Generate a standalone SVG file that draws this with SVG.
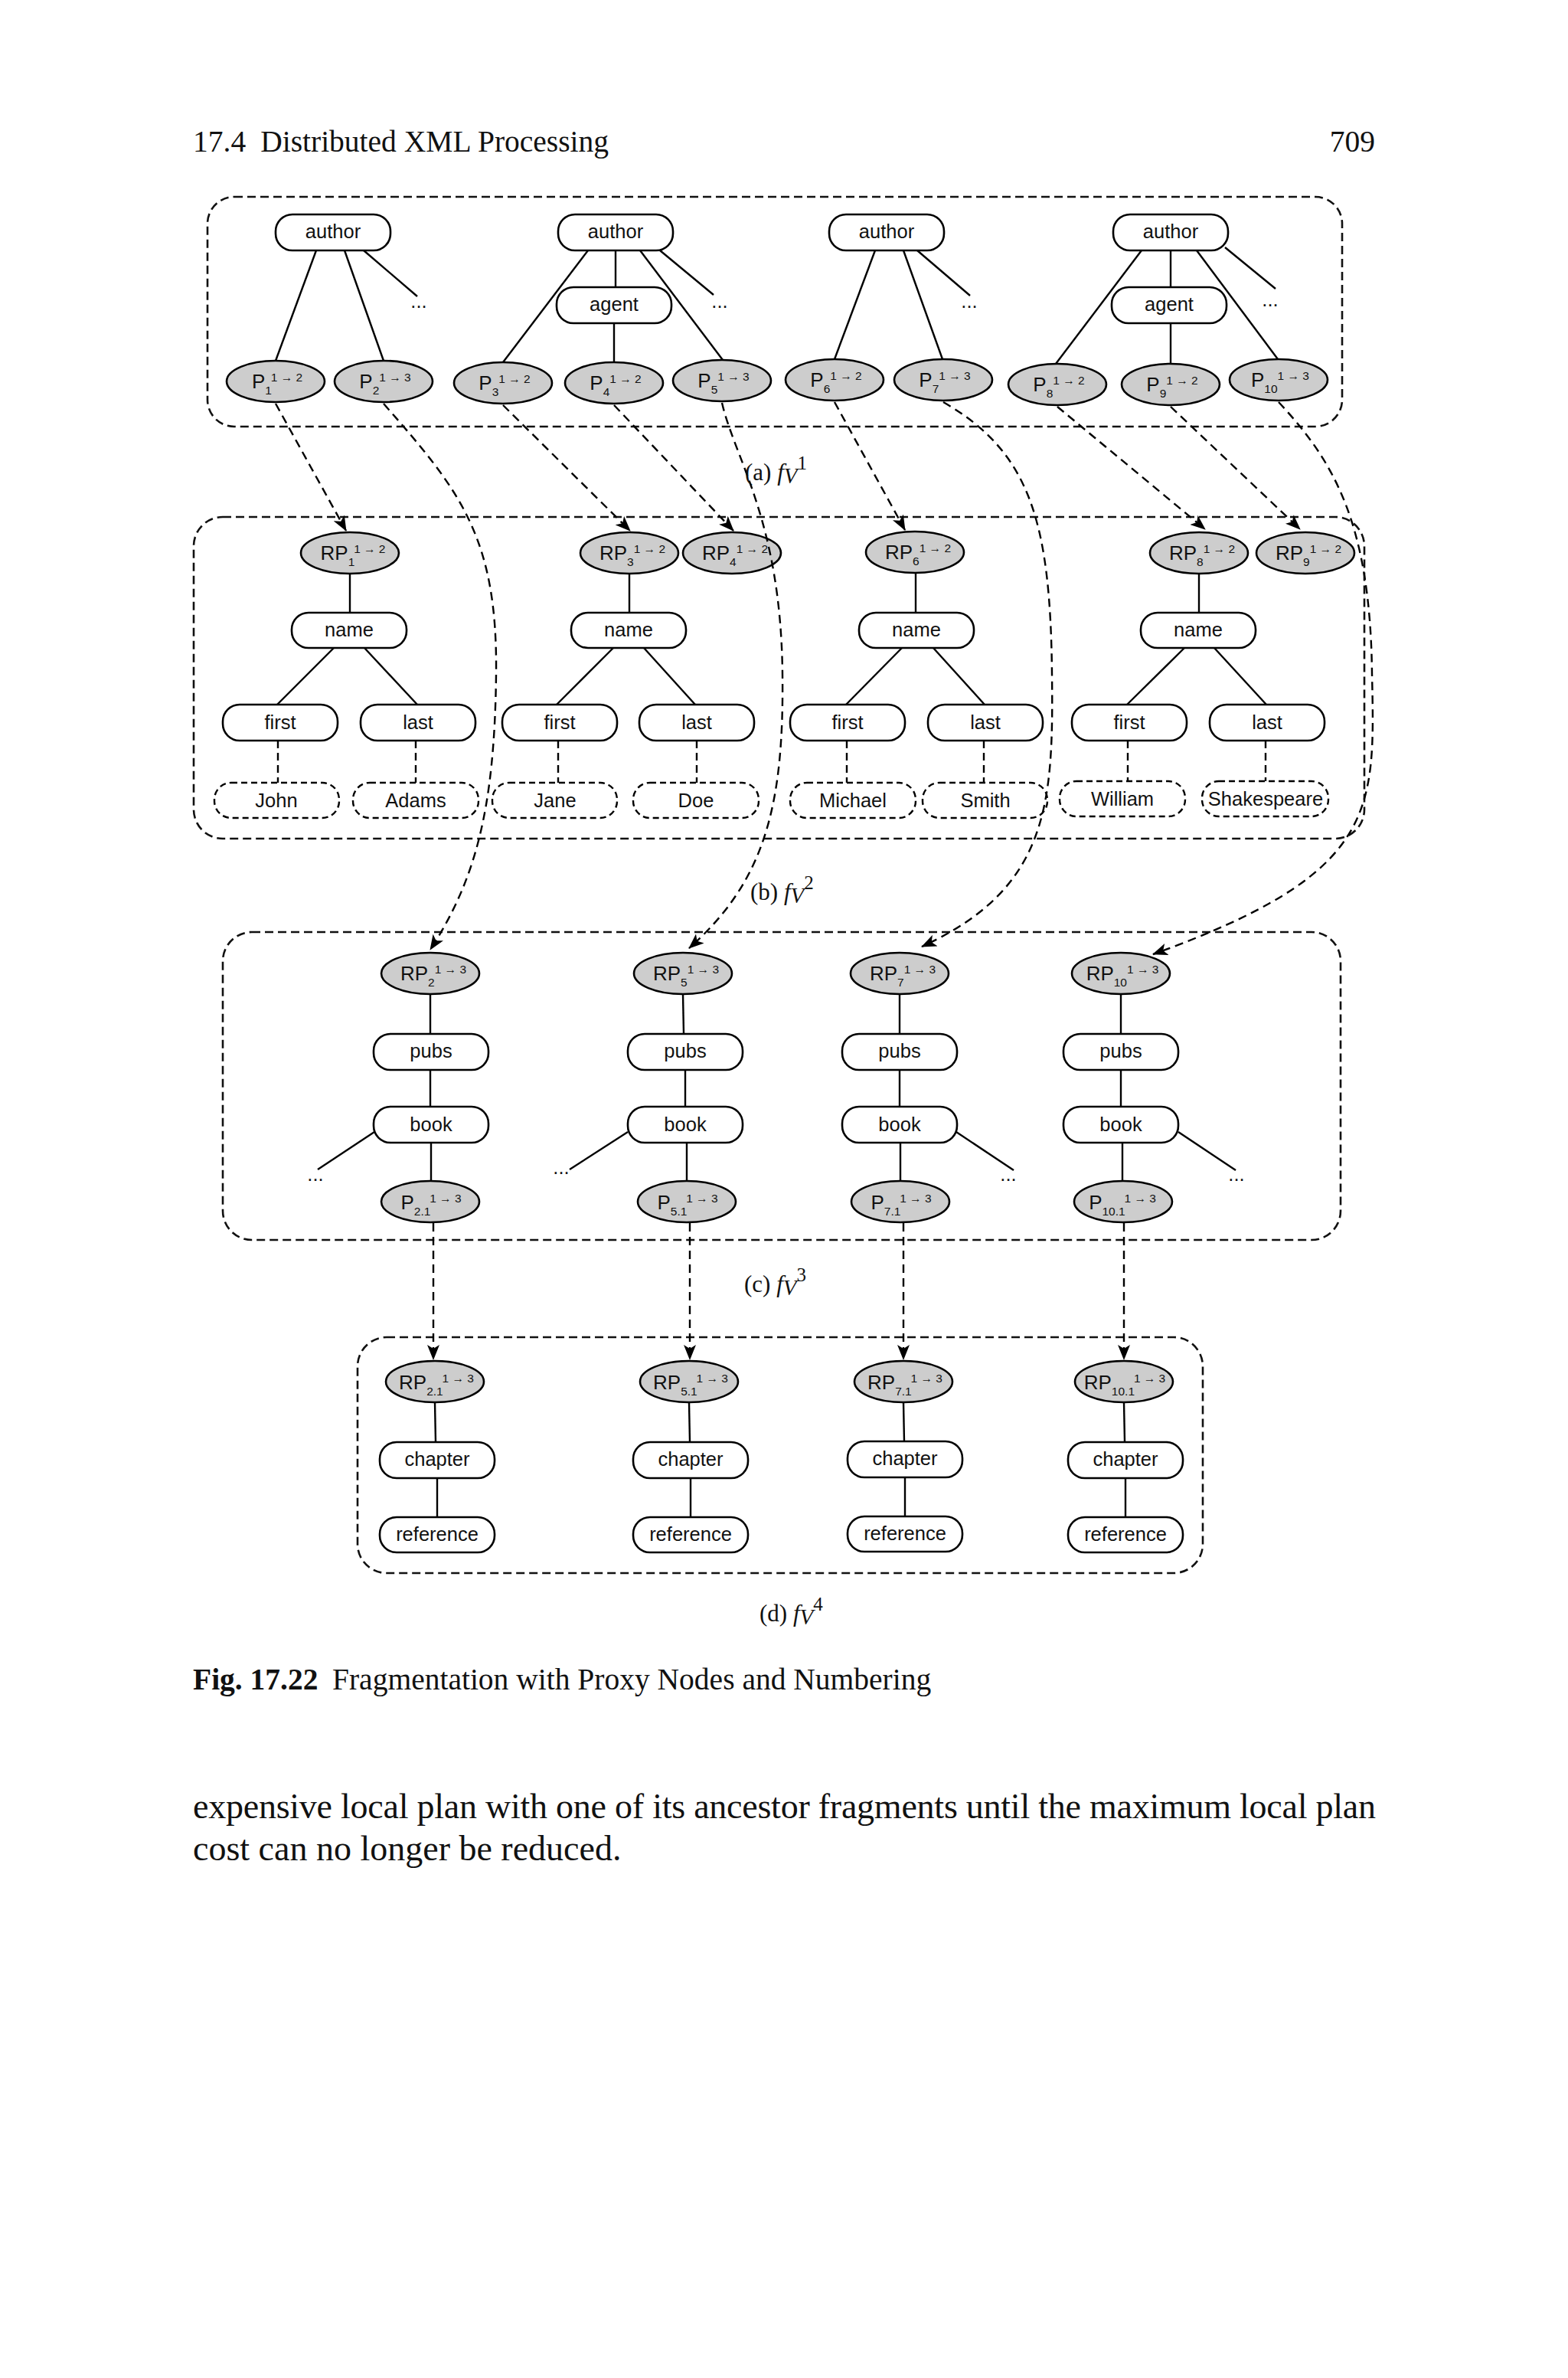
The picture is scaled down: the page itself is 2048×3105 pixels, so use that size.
<svg xmlns="http://www.w3.org/2000/svg" width="2048" height="3105" viewBox="0 0 2048 3105">
<defs>
<marker id="ah" viewBox="0 0 20 16" refX="19" refY="8" markerWidth="20" markerHeight="16" markerUnits="userSpaceOnUse" orient="auto"><path d="M0,0 L20,8 L0,16 L5,8 z" fill="#000"/></marker>
</defs>
<style>
.bg{fill:#fff}
.frame{fill:none;stroke:#111;stroke-width:2.6;stroke-dasharray:11 6}
.n rect{fill:#fff;stroke:#000;stroke-width:2.6}
.v rect{fill:#fff;stroke:#000;stroke-width:2.4;stroke-dasharray:8 5}
.p ellipse{fill:#cdcdcd;stroke:#000;stroke-width:2.6}
.t{font-family:"Liberation Sans",Arial,sans-serif;font-size:25.5px;text-anchor:middle;fill:#111}
.pl{font-family:"Liberation Sans",Arial,sans-serif;font-size:26px;text-anchor:middle;fill:#111}
.sb,.sp{font-size:15.5px}
.e line{stroke:#000;stroke-width:2.4}
.d line{stroke:#000;stroke-width:2.4;stroke-dasharray:10 6}
.c path{fill:none;stroke:#000;stroke-width:2.4;stroke-dasharray:11 7;marker-end:url(#ah)}
.serif{font-family:"Liberation Serif","Times New Roman",serif;fill:#111}
.cap{font-family:"Liberation Serif","Times New Roman",serif;font-size:31px;fill:#111}
.it{font-style:italic}
</style>
<rect class="bg" x="0" y="0" width="2048" height="3105"/>

<!-- header -->
<text class="serif" x="252" y="198" font-size="39.5">17.4<tspan dx="19">Distributed XML Processing</tspan></text>
<text class="serif" x="1796" y="198" font-size="39.5" text-anchor="end">709</text>

<!-- panel frames -->
<g id="frames">
<rect id="frame-a" class="frame" x="271" y="257" width="1482" height="300" rx="35"/>
<rect id="frame-b" class="frame" x="253" y="675" width="1529" height="420" rx="38"/>
<rect id="frame-c" class="frame" x="291" y="1217" width="1460" height="402" rx="38"/>
<rect id="frame-d" class="frame" x="467" y="1746" width="1104" height="308" rx="38"/>
</g>

<!-- tree edges -->
<g id="edges">
<g class="e">
<line x1="413" y1="327" x2="360" y2="471"/>
<line x1="450" y1="327" x2="501" y2="471"/>
<line x1="475" y1="327" x2="545" y2="387"/>
<line x1="768" y1="327" x2="657" y2="473"/>
<line x1="804" y1="327" x2="804" y2="375"/>
<line x1="802" y1="422" x2="802" y2="473"/>
<line x1="836" y1="327" x2="944" y2="470"/>
<line x1="862" y1="327" x2="932" y2="385"/>
<line x1="1143" y1="327" x2="1090" y2="469"/>
<line x1="1180" y1="327" x2="1231" y2="469"/>
<line x1="1198" y1="327" x2="1267" y2="386"/>
<line x1="1491" y1="327" x2="1379" y2="475"/>
<line x1="1529" y1="327" x2="1529" y2="375"/>
<line x1="1529" y1="422" x2="1529" y2="475"/>
<line x1="1563" y1="327" x2="1669" y2="469"/>
<line x1="1600" y1="323" x2="1666" y2="377"/>
<line x1="457" y1="749" x2="457" y2="800"/>
<line x1="822" y1="749" x2="822" y2="800"/>
<line x1="1196" y1="748" x2="1196" y2="800"/>
<line x1="1566" y1="749" x2="1566" y2="800"/>
<line x1="436" y1="846" x2="362" y2="920"/>
<line x1="476" y1="846" x2="545" y2="920"/>
<line x1="801" y1="846" x2="727" y2="920"/>
<line x1="841" y1="846" x2="908" y2="920"/>
<line x1="1178" y1="846" x2="1105" y2="920"/>
<line x1="1219" y1="846" x2="1286" y2="920"/>
<line x1="1547" y1="846" x2="1472" y2="920"/>
<line x1="1586" y1="846" x2="1654" y2="920"/>
<line x1="562" y1="1298" x2="562" y2="1350"/>
<line x1="562" y1="1397" x2="562" y2="1445"/>
<line x1="563" y1="1492" x2="563" y2="1542"/>
<line x1="892" y1="1298" x2="893" y2="1350"/>
<line x1="895" y1="1397" x2="895" y2="1445"/>
<line x1="897" y1="1492" x2="897" y2="1542"/>
<line x1="1175" y1="1298" x2="1175" y2="1350"/>
<line x1="1175" y1="1397" x2="1175" y2="1445"/>
<line x1="1176" y1="1492" x2="1176" y2="1542"/>
<line x1="1464" y1="1298" x2="1464" y2="1350"/>
<line x1="1464" y1="1397" x2="1464" y2="1445"/>
<line x1="1466" y1="1492" x2="1466" y2="1542"/>
<line x1="489" y1="1478" x2="415" y2="1527"/>
<line x1="820" y1="1478" x2="744" y2="1527"/>
<line x1="1249" y1="1478" x2="1324" y2="1528"/>
<line x1="1539" y1="1478" x2="1614" y2="1528"/>
<line x1="568" y1="1831" x2="569" y2="1883"/>
<line x1="571" y1="1930" x2="571" y2="1981"/>
<line x1="900" y1="1831" x2="901" y2="1883"/>
<line x1="902" y1="1930" x2="902" y2="1981"/>
<line x1="1180" y1="1831" x2="1181" y2="1883"/>
<line x1="1182" y1="1930" x2="1182" y2="1981"/>
<line x1="1468" y1="1831" x2="1469" y2="1883"/>
<line x1="1470" y1="1930" x2="1470" y2="1981"/>
</g>
<g class="d">
<line x1="363" y1="967" x2="363" y2="1022"/>
<line x1="543" y1="967" x2="543" y2="1022"/>
<line x1="729" y1="967" x2="729" y2="1022"/>
<line x1="910" y1="967" x2="910" y2="1022"/>
<line x1="1106" y1="967" x2="1106" y2="1022"/>
<line x1="1285" y1="967" x2="1285" y2="1022"/>
<line x1="1473" y1="967" x2="1473" y2="1020"/>
<line x1="1653" y1="967" x2="1653" y2="1020"/>
</g>
</g>

<!-- ellipsis marks -->
<g id="ellipses-marks" class="t">
<text x="547" y="402">...</text>
<text x="940" y="402">...</text>
<text x="1266" y="402">...</text>
<text x="1659" y="400">...</text>
<text x="412" y="1542">...</text>
<text x="733" y="1533">...</text>
<text x="1317" y="1542">...</text>
<text x="1615" y="1542">...</text>
</g>

<!-- panel (a) nodes -->
<g id="a-author1" class="n"><rect x="360" y="280" width="150" height="47" rx="22"/><text class="t" x="435" y="311">author</text></g>
<g id="a-author2" class="n"><rect x="729" y="280" width="150" height="47" rx="22"/><text class="t" x="804" y="311">author</text></g>
<g id="a-agent1" class="n"><rect x="727" y="375" width="150" height="47" rx="22"/><text class="t" x="802" y="406">agent</text></g>
<g id="a-author3" class="n"><rect x="1083" y="280" width="150" height="47" rx="22"/><text class="t" x="1158" y="311">author</text></g>
<g id="a-author4" class="n"><rect x="1454" y="280" width="150" height="47" rx="22"/><text class="t" x="1529" y="311">author</text></g>
<g id="a-agent2" class="n"><rect x="1452" y="375" width="150" height="47" rx="22"/><text class="t" x="1527" y="406">agent</text></g>

<g id="P1" class="p"><ellipse cx="360" cy="498" rx="64" ry="27"/><text class="pl" x="362" y="507">P<tspan class="sb" dy="8">1</tspan><tspan class="sp" dy="-17">1 → 2</tspan></text></g>
<g id="P2" class="p"><ellipse cx="501" cy="498" rx="64" ry="27"/><text class="pl" x="503" y="507">P<tspan class="sb" dy="8">2</tspan><tspan class="sp" dy="-17">1 → 3</tspan></text></g>
<g id="P3" class="p"><ellipse cx="657" cy="500" rx="64" ry="27"/><text class="pl" x="659" y="509">P<tspan class="sb" dy="8">3</tspan><tspan class="sp" dy="-17">1 → 2</tspan></text></g>
<g id="P4" class="p"><ellipse cx="802" cy="500" rx="64" ry="27"/><text class="pl" x="804" y="509">P<tspan class="sb" dy="8">4</tspan><tspan class="sp" dy="-17">1 → 2</tspan></text></g>
<g id="P5" class="p"><ellipse cx="943" cy="497" rx="64" ry="27"/><text class="pl" x="945" y="506">P<tspan class="sb" dy="8">5</tspan><tspan class="sp" dy="-17">1 → 3</tspan></text></g>
<g id="P6" class="p"><ellipse cx="1090" cy="496" rx="64" ry="27"/><text class="pl" x="1092" y="505">P<tspan class="sb" dy="8">6</tspan><tspan class="sp" dy="-17">1 → 2</tspan></text></g>
<g id="P7" class="p"><ellipse cx="1232" cy="496" rx="64" ry="27"/><text class="pl" x="1234" y="505">P<tspan class="sb" dy="8">7</tspan><tspan class="sp" dy="-17">1 → 3</tspan></text></g>
<g id="P8" class="p"><ellipse cx="1381" cy="502" rx="64" ry="27"/><text class="pl" x="1383" y="511">P<tspan class="sb" dy="8">8</tspan><tspan class="sp" dy="-17">1 → 2</tspan></text></g>
<g id="P9" class="p"><ellipse cx="1529" cy="502" rx="64" ry="27"/><text class="pl" x="1531" y="511">P<tspan class="sb" dy="8">9</tspan><tspan class="sp" dy="-17">1 → 2</tspan></text></g>
<g id="P10" class="p"><ellipse cx="1670" cy="496" rx="64" ry="27"/><text class="pl" x="1672" y="505">P<tspan class="sb" dy="8">10</tspan><tspan class="sp" dy="-17">1 → 3</tspan></text></g>

<!-- panel (b) nodes -->
<g id="RP1" class="p"><ellipse cx="457" cy="722" rx="64" ry="27"/><text class="pl" x="461" y="731">RP<tspan class="sb" dy="8">1</tspan><tspan class="sp" dy="-17">1 → 2</tspan></text></g>
<g id="RP3" class="p"><ellipse cx="822" cy="722" rx="64" ry="27"/><text class="pl" x="826" y="731">RP<tspan class="sb" dy="8">3</tspan><tspan class="sp" dy="-17">1 → 2</tspan></text></g>
<g id="RP4" class="p"><ellipse cx="956" cy="722" rx="64" ry="27"/><text class="pl" x="960" y="731">RP<tspan class="sb" dy="8">4</tspan><tspan class="sp" dy="-17">1 → 2</tspan></text></g>
<g id="RP6" class="p"><ellipse cx="1195" cy="721" rx="64" ry="27"/><text class="pl" x="1199" y="730">RP<tspan class="sb" dy="8">6</tspan><tspan class="sp" dy="-17">1 → 2</tspan></text></g>
<g id="RP8" class="p"><ellipse cx="1566" cy="722" rx="64" ry="27"/><text class="pl" x="1570" y="731">RP<tspan class="sb" dy="8">8</tspan><tspan class="sp" dy="-17">1 → 2</tspan></text></g>
<g id="RP9" class="p"><ellipse cx="1705" cy="722" rx="64" ry="27"/><text class="pl" x="1709" y="731">RP<tspan class="sb" dy="8">9</tspan><tspan class="sp" dy="-17">1 → 2</tspan></text></g>

<g id="b-name1" class="n"><rect x="381" y="800" width="150" height="46" rx="22"/><text class="t" x="456" y="831">name</text></g>
<g id="b-name2" class="n"><rect x="746" y="800" width="150" height="46" rx="22"/><text class="t" x="821" y="831">name</text></g>
<g id="b-name3" class="n"><rect x="1122" y="800" width="150" height="46" rx="22"/><text class="t" x="1197" y="831">name</text></g>
<g id="b-name4" class="n"><rect x="1490" y="800" width="150" height="46" rx="22"/><text class="t" x="1565" y="831">name</text></g>

<g id="b-first1" class="n"><rect x="291" y="920" width="150" height="47" rx="22"/><text class="t" x="366" y="952">first</text></g>
<g id="b-last1" class="n"><rect x="471" y="920" width="150" height="47" rx="22"/><text class="t" x="546" y="952">last</text></g>
<g id="b-first2" class="n"><rect x="656" y="920" width="150" height="47" rx="22"/><text class="t" x="731" y="952">first</text></g>
<g id="b-last2" class="n"><rect x="835" y="920" width="150" height="47" rx="22"/><text class="t" x="910" y="952">last</text></g>
<g id="b-first3" class="n"><rect x="1032" y="920" width="150" height="47" rx="22"/><text class="t" x="1107" y="952">first</text></g>
<g id="b-last3" class="n"><rect x="1212" y="920" width="150" height="47" rx="22"/><text class="t" x="1287" y="952">last</text></g>
<g id="b-first4" class="n"><rect x="1400" y="920" width="150" height="47" rx="22"/><text class="t" x="1475" y="952">first</text></g>
<g id="b-last4" class="n"><rect x="1580" y="920" width="150" height="47" rx="22"/><text class="t" x="1655" y="952">last</text></g>

<g id="b-john" class="v"><rect x="280" y="1022" width="163" height="46" rx="22"/><text class="t" x="361" y="1054">John</text></g>
<g id="b-adams" class="v"><rect x="461" y="1022" width="164" height="46" rx="22"/><text class="t" x="543" y="1054">Adams</text></g>
<g id="b-jane" class="v"><rect x="643" y="1022" width="163" height="46" rx="22"/><text class="t" x="725" y="1054">Jane</text></g>
<g id="b-doe" class="v"><rect x="827" y="1022" width="164" height="46" rx="22"/><text class="t" x="909" y="1054">Doe</text></g>
<g id="b-michael" class="v"><rect x="1032" y="1022" width="164" height="46" rx="22"/><text class="t" x="1114" y="1054">Michael</text></g>
<g id="b-smith" class="v"><rect x="1205" y="1022" width="163" height="46" rx="22"/><text class="t" x="1287" y="1054">Smith</text></g>
<g id="b-william" class="v"><rect x="1384" y="1020" width="164" height="46" rx="22"/><text class="t" x="1466" y="1052">William</text></g>
<g id="b-shakespeare" class="v"><rect x="1570" y="1020" width="165" height="46" rx="22"/><text class="t" x="1653" y="1052">Shakespeare</text></g>

<!-- panel (c) nodes -->
<g id="RP2" class="p"><ellipse cx="562" cy="1271" rx="64" ry="27"/><text class="pl" x="566" y="1280">RP<tspan class="sb" dy="8">2</tspan><tspan class="sp" dy="-17">1 → 3</tspan></text></g>
<g id="RP5" class="p"><ellipse cx="892" cy="1271" rx="64" ry="27"/><text class="pl" x="896" y="1280">RP<tspan class="sb" dy="8">5</tspan><tspan class="sp" dy="-17">1 → 3</tspan></text></g>
<g id="RP7" class="p"><ellipse cx="1175" cy="1271" rx="64" ry="27"/><text class="pl" x="1179" y="1280">RP<tspan class="sb" dy="8">7</tspan><tspan class="sp" dy="-17">1 → 3</tspan></text></g>
<g id="RP10" class="p"><ellipse cx="1464" cy="1271" rx="64" ry="27"/><text class="pl" x="1466" y="1280">RP<tspan class="sb" dy="8">10</tspan><tspan class="sp" dy="-17">1 → 3</tspan></text></g>

<g id="c-pubs1" class="n"><rect x="488" y="1350" width="150" height="47" rx="22"/><text class="t" x="563" y="1381">pubs</text></g>
<g id="c-pubs2" class="n"><rect x="820" y="1350" width="150" height="47" rx="22"/><text class="t" x="895" y="1381">pubs</text></g>
<g id="c-pubs3" class="n"><rect x="1100" y="1350" width="150" height="47" rx="22"/><text class="t" x="1175" y="1381">pubs</text></g>
<g id="c-pubs4" class="n"><rect x="1389" y="1350" width="150" height="47" rx="22"/><text class="t" x="1464" y="1381">pubs</text></g>
<g id="c-book1" class="n"><rect x="488" y="1445" width="150" height="47" rx="22"/><text class="t" x="563" y="1477">book</text></g>
<g id="c-book2" class="n"><rect x="820" y="1445" width="150" height="47" rx="22"/><text class="t" x="895" y="1477">book</text></g>
<g id="c-book3" class="n"><rect x="1100" y="1445" width="150" height="47" rx="22"/><text class="t" x="1175" y="1477">book</text></g>
<g id="c-book4" class="n"><rect x="1389" y="1445" width="150" height="47" rx="22"/><text class="t" x="1464" y="1477">book</text></g>

<g id="P2_1" class="p"><ellipse cx="562" cy="1569" rx="64" ry="27"/><text class="pl" x="563" y="1579">P<tspan class="sb" dy="8">2.1</tspan><tspan class="sp" dy="-17">1 → 3</tspan></text></g>
<g id="P5_1" class="p"><ellipse cx="897" cy="1569" rx="64" ry="27"/><text class="pl" x="898" y="1579">P<tspan class="sb" dy="8">5.1</tspan><tspan class="sp" dy="-17">1 → 3</tspan></text></g>
<g id="P7_1" class="p"><ellipse cx="1176" cy="1569" rx="64" ry="27"/><text class="pl" x="1177" y="1579">P<tspan class="sb" dy="8">7.1</tspan><tspan class="sp" dy="-17">1 → 3</tspan></text></g>
<g id="P10_1" class="p"><ellipse cx="1467" cy="1569" rx="64" ry="27"/><text class="pl" x="1466" y="1579">P<tspan class="sb" dy="8">10.1</tspan><tspan class="sp" dy="-17">1 → 3</tspan></text></g>

<!-- panel (d) nodes -->
<g id="RP2_1" class="p"><ellipse cx="568" cy="1804" rx="64" ry="27"/><text class="pl" x="570" y="1814">RP<tspan class="sb" dy="8">2.1</tspan><tspan class="sp" dy="-17">1 → 3</tspan></text></g>
<g id="RP5_1" class="p"><ellipse cx="900" cy="1804" rx="64" ry="27"/><text class="pl" x="902" y="1814">RP<tspan class="sb" dy="8">5.1</tspan><tspan class="sp" dy="-17">1 → 3</tspan></text></g>
<g id="RP7_1" class="p"><ellipse cx="1180" cy="1804" rx="64" ry="27"/><text class="pl" x="1182" y="1814">RP<tspan class="sb" dy="8">7.1</tspan><tspan class="sp" dy="-17">1 → 3</tspan></text></g>
<g id="RP10_1" class="p"><ellipse cx="1468" cy="1804" rx="64" ry="27"/><text class="pl" x="1469" y="1814">RP<tspan class="sb" dy="8">10.1</tspan><tspan class="sp" dy="-17">1 → 3</tspan></text></g>

<g id="d-chapter1" class="n"><rect x="496" y="1883" width="150" height="47" rx="22"/><text class="t" x="571" y="1914">chapter</text></g>
<g id="d-chapter2" class="n"><rect x="827" y="1883" width="150" height="47" rx="22"/><text class="t" x="902" y="1914">chapter</text></g>
<g id="d-chapter3" class="n"><rect x="1107" y="1882" width="150" height="47" rx="22"/><text class="t" x="1182" y="1913">chapter</text></g>
<g id="d-chapter4" class="n"><rect x="1395" y="1883" width="150" height="47" rx="22"/><text class="t" x="1470" y="1914">chapter</text></g>
<g id="d-reference1" class="n"><rect x="496" y="1981" width="150" height="46" rx="22"/><text class="t" x="571" y="2012">reference</text></g>
<g id="d-reference2" class="n"><rect x="827" y="1981" width="150" height="46" rx="22"/><text class="t" x="902" y="2012">reference</text></g>
<g id="d-reference3" class="n"><rect x="1107" y="1980" width="150" height="46" rx="22"/><text class="t" x="1182" y="2011">reference</text></g>
<g id="d-reference4" class="n"><rect x="1395" y="1981" width="150" height="46" rx="22"/><text class="t" x="1470" y="2012">reference</text></g>

<!-- proxy connectors -->
<g id="connectors" class="c">
<path d="M360 527 L452 693"/>
<path d="M657 529 L823 693"/>
<path d="M802 529 L958 693"/>
<path d="M1090 525 L1182 692"/>
<path d="M1381 531 L1574 691"/>
<path d="M1529 531 L1698 691"/>
<path d="M501 527 C600 640 650 700 648 880 C646 1060 620 1150 562 1240"/>
<path d="M943 526 C960 600 1020 680 1022 880 C1024 1050 1000 1150 900 1238"/>
<path d="M1232 525 C1345 590 1372 680 1374 880 C1376 1050 1370 1160 1204 1236"/>
<path d="M1670 525 C1740 600 1790 680 1792 880 C1796 1060 1800 1140 1506 1246"/>
<path d="M566 1597 L566 1775"/>
<path d="M901 1597 L901 1775"/>
<path d="M1180 1597 L1180 1775"/>
<path d="M1468 1597 L1468 1775"/>
</g>

<!-- sub-captions -->
<g id="captions">
<text class="cap" x="973" y="627">(a) <tspan class="it">f</tspan><tspan class="it" font-size="29" dy="4">V</tspan><tspan font-size="25" dy="-18">1</tspan></text>
<text class="cap" x="980" y="1175">(b) <tspan class="it">f</tspan><tspan class="it" font-size="29" dy="4">V</tspan><tspan font-size="25" dy="-18">2</tspan></text>
<text class="cap" x="972" y="1687">(c) <tspan class="it">f</tspan><tspan class="it" font-size="29" dy="4">V</tspan><tspan font-size="25" dy="-18">3</tspan></text>
<text class="cap" x="992" y="2117">(d) <tspan class="it">f</tspan><tspan class="it" font-size="29" dy="4">V</tspan><tspan font-size="25" dy="-18">4</tspan></text>
</g>

<!-- figure caption and body -->
<text class="serif" x="252" y="2206" font-size="39.5"><tspan font-weight="bold">Fig. 17.22</tspan><tspan x="434">Fragmentation with Proxy Nodes and Numbering</tspan></text>
<text class="serif" x="252" y="2374" font-size="46" textLength="1545" lengthAdjust="spacing">expensive local plan with one of its ancestor fragments until the maximum local plan</text>
<text class="serif" x="252" y="2429" font-size="46">cost can no longer be reduced.</text>
</svg>
